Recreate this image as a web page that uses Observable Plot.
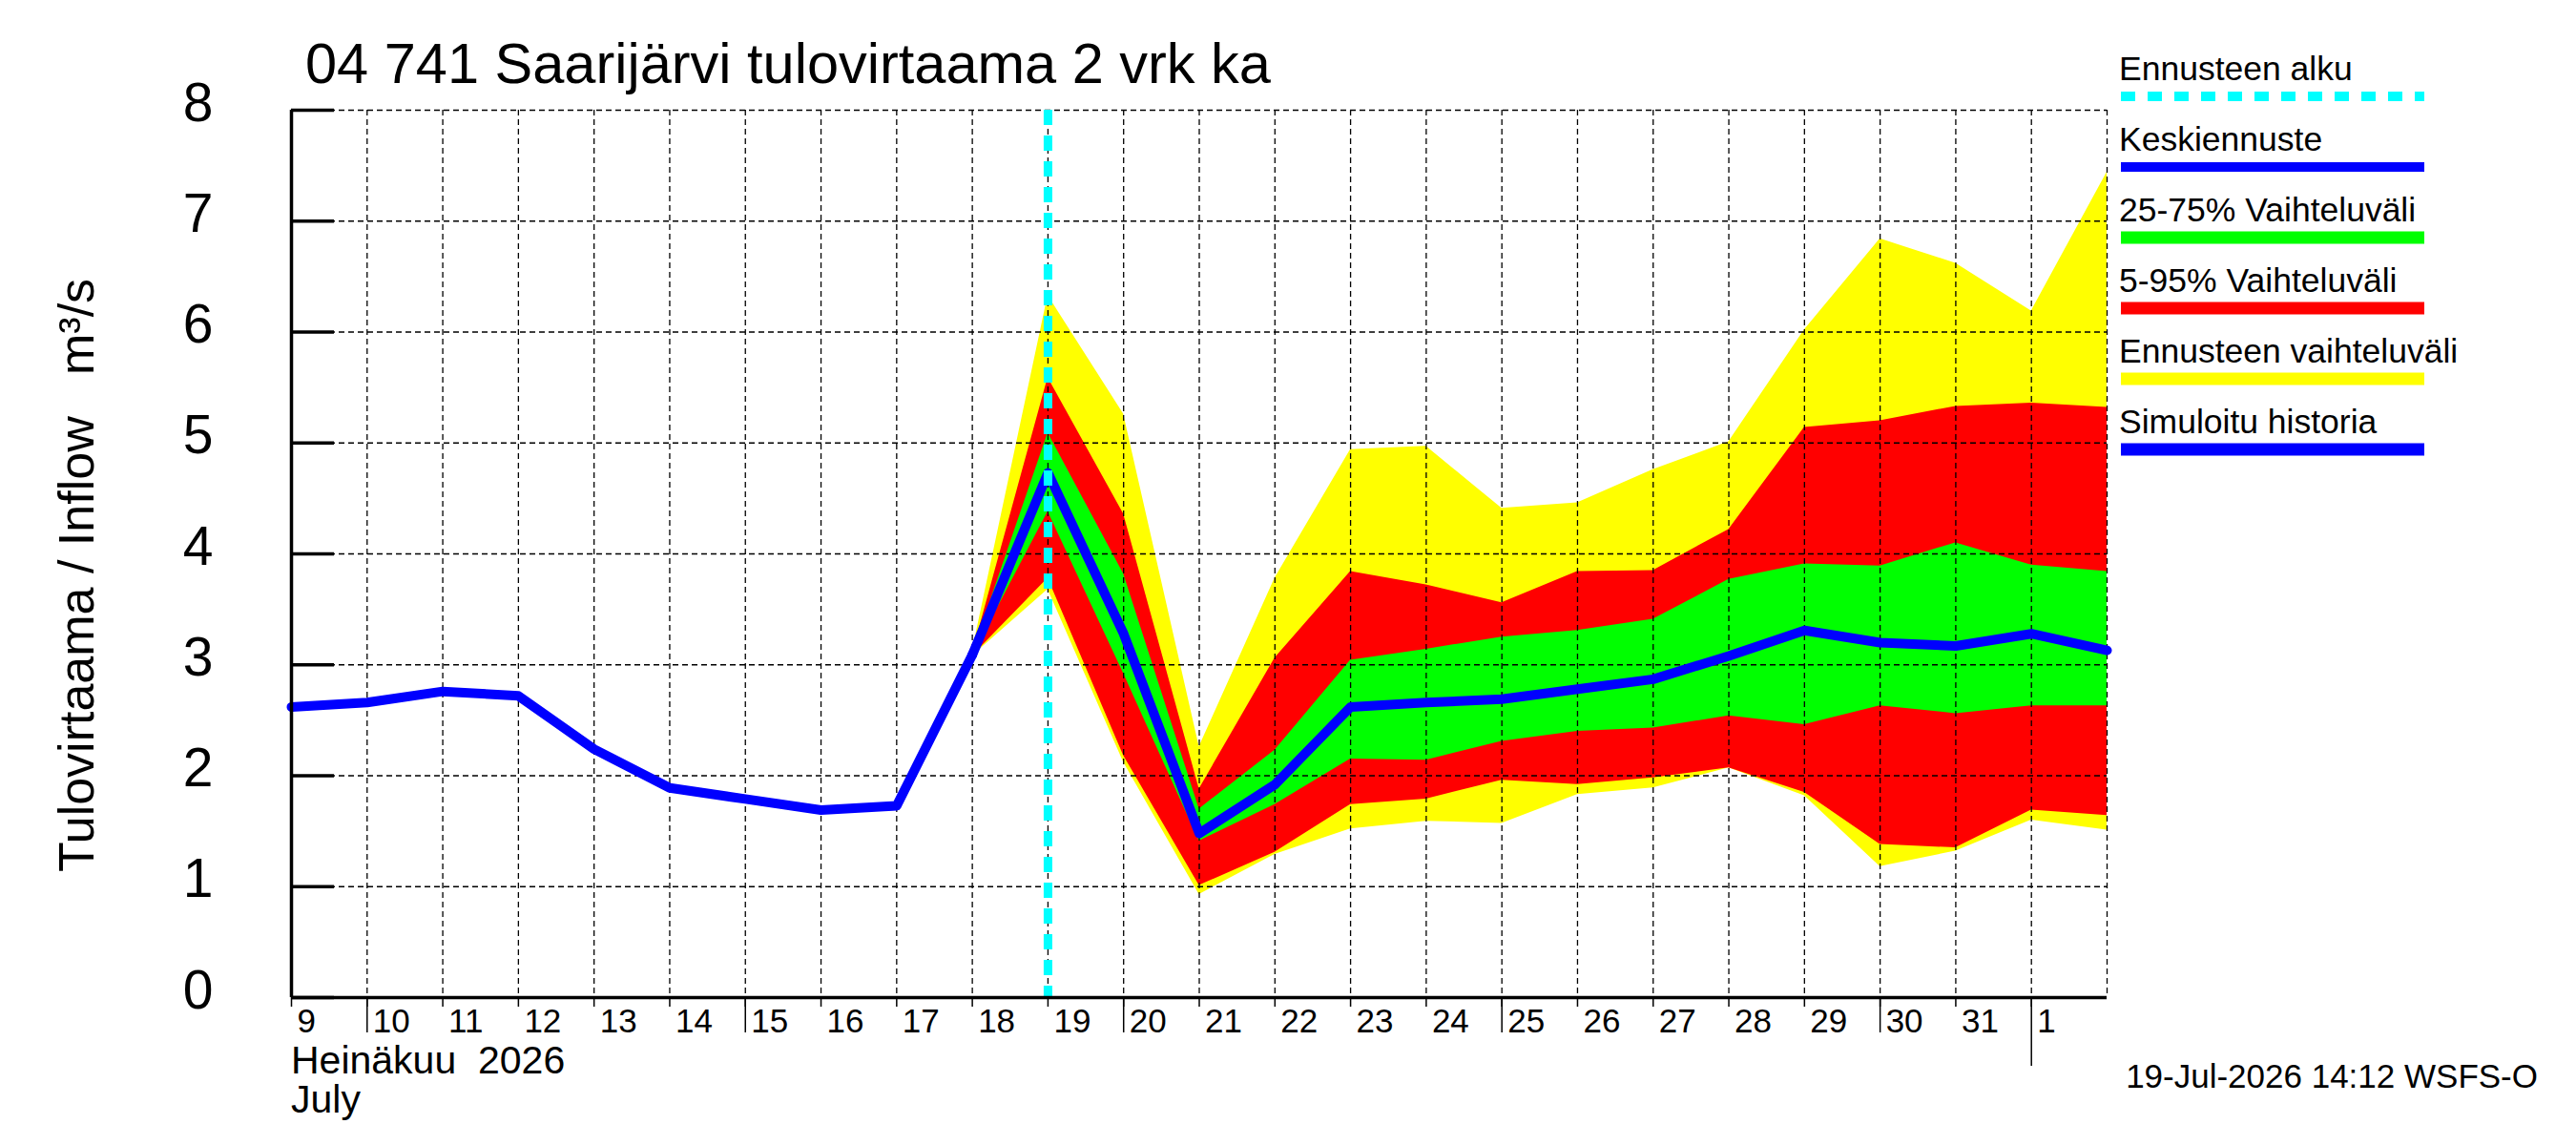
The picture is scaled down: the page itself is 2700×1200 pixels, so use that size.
<!DOCTYPE html>
<html>
<head>
<meta charset="utf-8">
<script src="https://cdn.jsdelivr.net/npm/d3@7"></script>
<script src="https://cdn.jsdelivr.net/npm/@observablehq/plot@0.6"></script>
<style>
  body { margin: 0; background: #ffffff; }
  #chart svg text { font-family: "Liberation Sans", Arial, sans-serif; fill: #000; }
</style>
</head>
<body>
<div id="chart"></div>
<script>
// ---- data ----
const titleText = "04 741 Saarijärvi tulovirtaama 2 vrk ka";
const yLabelText = "Tulovirtaama / Inflow   m³/s";
const monthLabelFi = "Heinäkuu  2026";
const monthLabelEn = "July";
const footerText = "19-Jul-2026 14:12 WSFS-O";

const histDates = ["2026-07-09","2026-07-10","2026-07-11","2026-07-12","2026-07-13",
                   "2026-07-14","2026-07-15","2026-07-16","2026-07-17","2026-07-18"];
const histFlow  = [2.62, 2.66, 2.76, 2.72, 2.24, 1.89, 1.79, 1.69, 1.73, 3.09];

const fcDates = ["2026-07-18","2026-07-19","2026-07-20","2026-07-21","2026-07-22","2026-07-23",
                 "2026-07-24","2026-07-25","2026-07-26","2026-07-27","2026-07-28","2026-07-29",
                 "2026-07-30","2026-07-31","2026-08-01","2026-08-02"];
const fcMean = [3.09, 4.73, 3.28, 1.48, 1.92, 2.62, 2.66, 2.69, 2.78, 2.87, 3.08, 3.31, 3.20, 3.17, 3.28, 3.13];
const fcMax  = [3.12, 6.33, 5.26, 2.26, 3.78, 4.94, 4.97, 4.41, 4.46, 4.76, 5.01, 6.02, 6.84, 6.62, 6.19, 7.44];
const fcP95  = [3.10, 5.59, 4.36, 1.88, 3.06, 3.84, 3.72, 3.56, 3.84, 3.85, 4.22, 5.14, 5.20, 5.33, 5.36, 5.32];
const fcP75  = [3.10, 5.09, 3.82, 1.70, 2.23, 3.04, 3.14, 3.25, 3.31, 3.41, 3.77, 3.91, 3.89, 4.10, 3.90, 3.84];
const fcP25  = [3.08, 4.38, 2.92, 1.41, 1.74, 2.15, 2.14, 2.31, 2.40, 2.43, 2.54, 2.46, 2.63, 2.56, 2.63, 2.63];
const fcP05  = [3.08, 3.78, 2.18, 1.01, 1.31, 1.74, 1.79, 1.96, 1.92, 1.98, 2.07, 1.85, 1.38, 1.35, 1.69, 1.64];
const fcMin  = [3.08, 3.68, 2.12, 0.93, 1.29, 1.52, 1.59, 1.57, 1.83, 1.89, 2.07, 1.82, 1.18, 1.32, 1.60, 1.51];

const forecastStart = "2026-07-19";
const xStart = "2026-07-09";
const xEnd = "2026-08-02";

const yTicks = [0, 1, 2, 3, 4, 5, 6, 7, 8];
const dayTickDates = ["2026-07-09","2026-07-10","2026-07-11","2026-07-12","2026-07-13","2026-07-14",
                      "2026-07-15","2026-07-16","2026-07-17","2026-07-18","2026-07-19","2026-07-20",
                      "2026-07-21","2026-07-22","2026-07-23","2026-07-24","2026-07-25","2026-07-26",
                      "2026-07-27","2026-07-28","2026-07-29","2026-07-30","2026-07-31","2026-08-01"];
const dayTickLabels = ["9","10","11","12","13","14","15","16","17","18","19","20",
                       "21","22","23","24","25","26","27","28","29","30","31","1"];
const longTickDates = ["2026-07-10","2026-07-15","2026-07-20","2026-07-25","2026-07-30"];
const monthTickDates = ["2026-08-01"];
const gridDates = ["2026-07-10","2026-07-11","2026-07-12","2026-07-13","2026-07-14","2026-07-15",
                   "2026-07-16","2026-07-17","2026-07-18","2026-07-19","2026-07-20","2026-07-21",
                   "2026-07-22","2026-07-23","2026-07-24","2026-07-25","2026-07-26","2026-07-27",
                   "2026-07-28","2026-07-29","2026-07-30","2026-07-31","2026-08-01","2026-08-02"];

const legendLabels = ["Ennusteen alku","Keskiennuste","25-75% Vaihteluväli","5-95% Vaihteluväli","Ennusteen vaihteluväli","Simuloitu historia"];
const legendColors = ["#00ffff","#0000ff","#00ff00","#ff0000","#ffff00","#0000ff"];

// ---- build tables ----
const D = s => new Date(s + "T00:00:00Z");
const hist = histDates.map((d, i) => ({date: D(d), v: histFlow[i]}));
const fc = fcDates.map((d, i) => ({
  date: D(d), mean: fcMean[i], max: fcMax[i], p95: fcP95[i], p75: fcP75[i],
  p25: fcP25[i], p05: fcP05[i], min: fcMin[i]
}));
const dayLabels = dayTickDates.map((d, i) => ({date: D(d), label: dayTickLabels[i]}));

const dash = {stroke: "#000", strokeWidth: 1.3, strokeDasharray: "6,4"};

const chart = Plot.plot({
  width: 2700,
  height: 1200,
  marginLeft: 305,
  marginRight: 492,
  marginTop: 115,
  marginBottom: 155,
  style: {background: "#ffffff", fontFamily: "Liberation Sans, Arial, sans-serif", overflow: "visible"},
  x: {type: "utc", domain: [D(xStart), D(xEnd)]},
  y: {domain: [0, 8]},
  marks: [
    Plot.areaY(fc, {x: "date", y1: "min", y2: "max", fill: "#ffff00", curve: "linear"}),
    Plot.areaY(fc, {x: "date", y1: "p05", y2: "p95", fill: "#ff0000", curve: "linear"}),
    Plot.areaY(fc, {x: "date", y1: "p25", y2: "p75", fill: "#00ff00", curve: "linear"}),
    Plot.ruleY(yTicks.filter(v => v > 0), dash),
    Plot.ruleX(gridDates.map(D), dash),
    Plot.line(hist, {x: "date", y: "v", stroke: "#0000ff", strokeWidth: 10, strokeLinejoin: "round"}),
    Plot.line(fc, {x: "date", y: "mean", stroke: "#0000ff", strokeWidth: 10, strokeLinejoin: "round"}),
    Plot.ruleX([D(forecastStart)], {stroke: "#00ffff", strokeWidth: 9, strokeDasharray: "16,11"}),
    Plot.ruleY([0], {stroke: "#000", strokeWidth: 3.5}),
    Plot.ruleX([D(xStart)], {stroke: "#000", strokeWidth: 3.5}),
    Plot.axisY({ticks: yTicks, tickSize: -45, strokeWidth: 3.5, tickFormat: () => "", label: null}),
    Plot.text(yTicks, {y: d => d, text: d => String(d), frameAnchor: "left", dx: -82, dy: 11,
                       textAnchor: "end", lineAnchor: "bottom", fontSize: 57}),
    Plot.axisX({ticks: dayTickDates.map(D), tickSize: 10, strokeWidth: 1.5, tickFormat: () => "", label: null}),
    Plot.axisX({ticks: longTickDates.map(D), tickSize: 37, strokeWidth: 1.5, tickFormat: () => "", label: null}),
    Plot.axisX({ticks: monthTickDates.map(D), tickSize: 72, strokeWidth: 1.5, tickFormat: () => "", label: null}),
    Plot.text(dayLabels, {x: "date", text: "label", frameAnchor: "bottom", dx: 6, dy: 36,
                          textAnchor: "start", lineAnchor: "bottom", fontSize: 35})
  ]
});

document.getElementById("chart").appendChild(chart);

// ---- titles, labels, legend ----
const svg = d3.select(chart);
const ff = "Liberation Sans, Arial, sans-serif";
const addText = (x, y, size, str, anchor = "start") =>
  svg.append("text").attr("x", x).attr("y", y).attr("font-size", size).attr("font-family", ff)
     .attr("text-anchor", anchor).style("white-space", "pre").text(str);

addText(320, 87, 59.5, titleText);
svg.append("text").attr("transform", "translate(98,603) rotate(-90)").attr("text-anchor", "middle")
  .attr("font-size", 52).attr("font-family", ff).style("white-space", "pre").text(yLabelText);
addText(305, 1125, 41, monthLabelFi);
addText(305, 1166, 41, monthLabelEn);
addText(2660, 1140, 35, footerText, "end");

legendLabels.forEach((lab, i) => {
  const base = 84 + i * 74;
  addText(2221, base, 35.5, lab);
  const ln = svg.append("line").attr("x1", 2223).attr("x2", 2541)
    .attr("y1", base + 17).attr("y2", base + 17)
    .attr("stroke", legendColors[i]).attr("stroke-width", i === 0 || i === 1 ? 10 : 13);
  if (i === 0) ln.attr("stroke-dasharray", "15,13");
});
</script>
</body>
</html>
